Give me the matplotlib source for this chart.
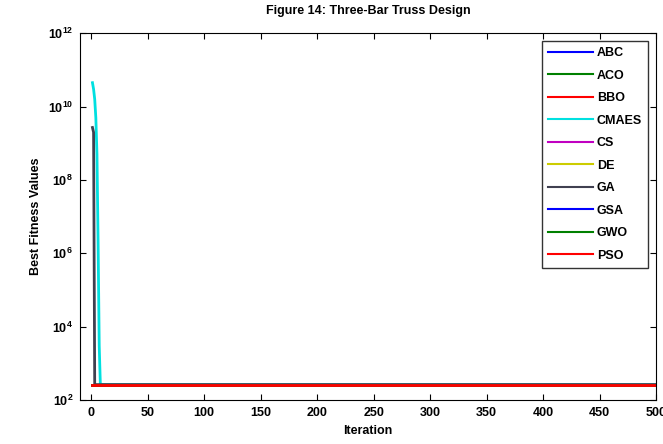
import matplotlib
matplotlib.use("Agg")
import matplotlib.pyplot as plt
import numpy as np

plt.rcParams["font.family"] = ["Liberation Sans Narrow", "Liberation Sans", "DejaVu Sans"]
plt.rcParams["font.weight"] = "bold"

n_iter = 500
iterations = np.arange(1, n_iter + 1)
best = 263.9  # converged fitness for all algorithms

names = ["ABC", "ACO", "BBO", "CMAES", "CS", "DE", "GA", "GSA", "GWO", "PSO"]
colors = ["#0000ff", "#008000", "#ff0000", "#00e0e0", "#c000c0",
          "#cccc00", "#404050", "#0000ff", "#008000", "#ff0000"]

# early iterations, rest stays at the optimum
heads = {
    "ABC": [best],
    "ACO": [best],
    "BBO": [best],
    "CMAES": [4.5e10, 3.0e10, 1.6e10, 5.0e9, 5.0e8, 2.0e6, 3.0e3, best],
    "CS": [best],
    "DE": [best],
    "GA": [2.7e9, 2.0e9, best],
    "GSA": [best],
    "GWO": [best],
    "PSO": [best],
}

fig = plt.figure(figsize=(6.63, 4.44), dpi=100)
ax = fig.add_axes([0.1207, 0.099, 0.8687, 0.826])

for name, col in zip(names, colors):
    head = heads[name]
    vals = np.array(head + [best] * (n_iter - len(head)))
    ax.plot(iterations, vals, color=col, lw=2, label=name)

ax.set_yscale("log")
ax.set_xlim(-10, 500)
ax.set_ylim(1e2, 1e12)
ax.set_xticks(np.arange(0, 501, 50))
ax.set_yticks([1e2, 1e4, 1e6, 1e8, 1e10, 1e12])
ax.minorticks_off()
ax.tick_params(direction="in", top=True, right=True, length=4, labelsize=9, pad=5)

ax.set_xlabel("Iteration", fontsize=9, fontweight="bold", labelpad=4)
ax.set_ylabel("Best Fitness Values", fontsize=9, fontweight="bold")
ax.set_title("Figure 14: Three-Bar Truss Design", fontsize=9, fontweight="bold", pad=14)

leg = ax.legend(loc="upper right", fontsize=9, frameon=True, fancybox=False,
                edgecolor="black", handlelength=3.6, labelspacing=0.84,
                borderaxespad=0.6, handletextpad=0.3, borderpad=0.5)
leg.get_frame().set_linewidth(1)
for line in leg.get_lines():
    line.set_linewidth(1.5)

fig.savefig("out.png", dpi=100)
